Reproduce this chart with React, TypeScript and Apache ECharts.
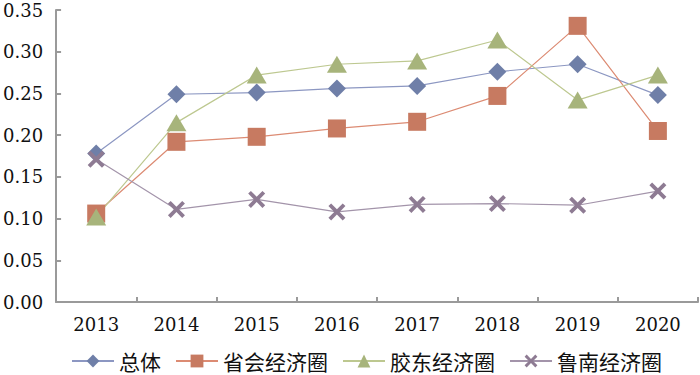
import React, { useEffect, useRef } from "react";
import * as echarts from "echarts";

const years = ["2013", "2014", "2015", "2016", "2017", "2018", "2019", "2020"];
const seriesNames = ["总体", "省会经济圈", "胶东经济圈", "鲁南经济圈"];
const overall = [0.178, 0.249, 0.251, 0.256, 0.259, 0.276, 0.285, 0.248];
const provincial = [0.106, 0.192, 0.198, 0.208, 0.216, 0.247, 0.331, 0.205];
const jiaodong = [0.102, 0.215, 0.272, 0.285, 0.289, 0.314, 0.242, 0.272];
const lunan = [0.171, 0.111, 0.123, 0.108, 0.117, 0.118, 0.116, 0.133];
const yTicks = [0, 0.05, 0.1, 0.15, 0.2, 0.25, 0.3, 0.35];

const X_PATH =
  "path://M0,1.6 L1.6,0 L5,3.4 L8.4,0 L10,1.6 L6.6,5 L10,8.4 L8.4,10 L5,6.6 L1.6,10 L0,8.4 L3.4,5 Z";

const SERIF = "DejaVu Serif";
const LEGEND_FONT = "Noto Sans CJK SC";

export default function App() {
  const ref = useRef<HTMLDivElement>(null);
  useEffect(() => {
    if (!ref.current) return;
    const chart = echarts.init(ref.current, undefined, { renderer: "svg" });
    const mk = (
      name: string,
      data: number[],
      symbol: string,
      size: number | number[],
      fill: string,
      line: string
    ) => ({
      name,
      type: "line",
      data,
      symbol,
      symbolSize: size,
      showAllSymbol: true,
      itemStyle: { color: fill, borderWidth: 0 },
      lineStyle: { color: line, width: 1.2 },
      emphasis: { disabled: true },
    });
    chart.setOption({
      animation: false,
      backgroundColor: "#fff",
      grid: { left: 55, right: 2, top: 10, bottom: 73 },
      xAxis: {
        type: "category",
        data: years,
        boundaryGap: true,
        axisLine: { lineStyle: { color: "#9a9a9a", width: 2 } },
        axisTick: {
          show: true,
          inside: true,
          length: 5,
          lineStyle: { color: "#9a9a9a", width: 2 },
        },
        axisLabel: {
          color: "#111",
          fontFamily: SERIF,
          fontSize: 18,
          margin: 13,
        },
      },
      yAxis: {
        type: "value",
        min: 0,
        max: 0.35,
        interval: 0.05,
        splitLine: { show: false },
        axisLine: { show: true, lineStyle: { color: "#9a9a9a", width: 2 } },
        axisTick: {
          show: true,
          inside: true,
          length: 5,
          lineStyle: { color: "#9a9a9a", width: 2 },
        },
        axisLabel: {
          color: "#111",
          fontFamily: SERIF,
          fontSize: 18,
          margin: 13,
          formatter: (v: number) => {
            const t = yTicks.find((x) => Math.abs(x - v) < 1e-9);
            return (t ?? v).toFixed(2);
          },
        },
      },
      legend: {
        top: 350,
        left: 71,
        itemWidth: 42,
        itemHeight: 16,
        itemGap: 14,
        padding: 0,
        textStyle: {
          color: "#111",
          fontFamily: LEGEND_FONT,
          fontSize: 21,
          lineHeight: 22,
        },
        data: seriesNames,
      },
      series: [
        mk(seriesNames[0], overall, "diamond", 18, "#6f7fa8", "#8c97c2"),
        mk(seriesNames[1], provincial, "rect", 18, "#c77a61", "#dc8b73"),
        mk(seriesNames[2], jiaodong, "triangle", [20, 17], "#a7b47b", "#bdc890"),
        mk(seriesNames[3], lunan, X_PATH, 17, "#8e7b93", "#a394aa"),
      ],
    });
    return () => chart.dispose();
  }, []);
  return (
    <div
      ref={ref}
      style={{ position: "absolute", left: 0, top: 0, width: 700, height: 375 }}
    />
  );
}
